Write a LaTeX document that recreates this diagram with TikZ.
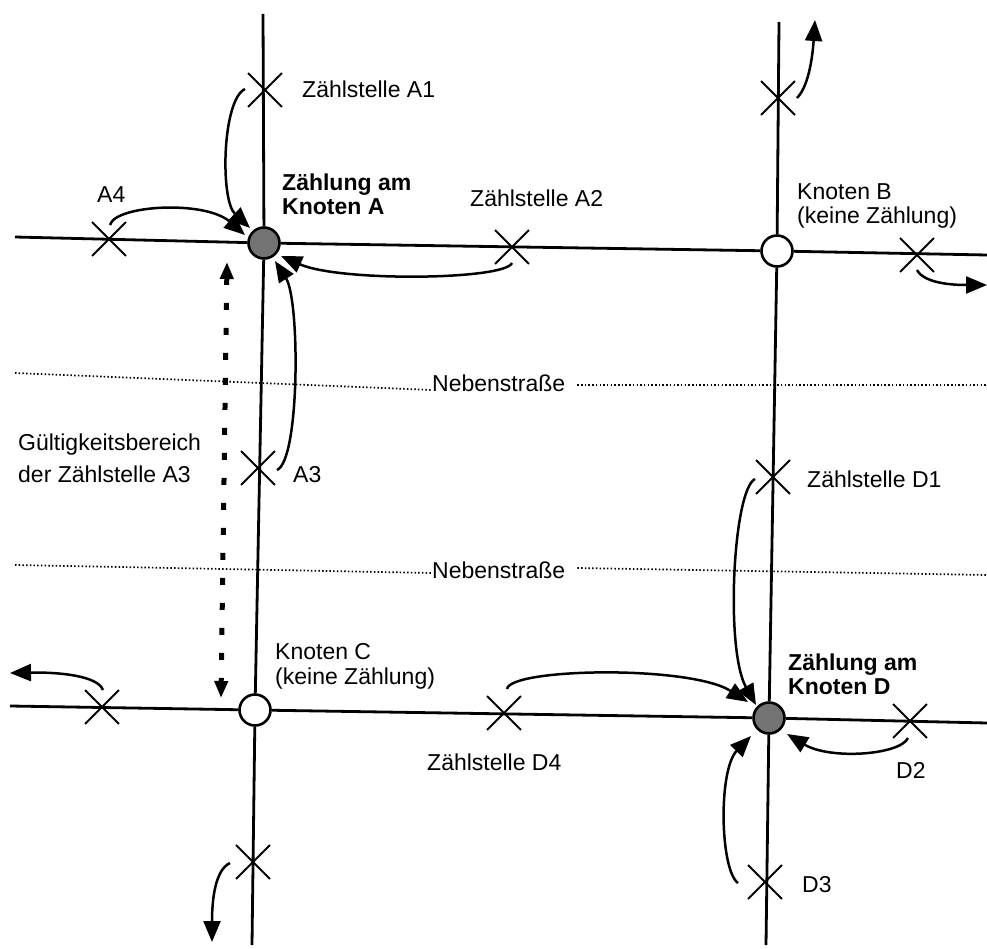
\documentclass[tikz,border=0pt]{standalone}
\usepackage{fontspec}
\setmainfont{Liberation Sans}
\usetikzlibrary{arrows.meta,shapes.misc}
\begin{document}
\begin{tikzpicture}[x=1pt,y=-1pt,
  road/.style={line width=2.8pt},
  side/.style={line width=1.7pt, dash pattern=on 1.5pt off 2.2pt},
  junc/.style={circle, draw, line width=2.6pt, minimum size=31pt, inner sep=0pt},
  counted/.style={junc, fill=black!55},
  free/.style={junc, fill=white},
  xmark/.style={cross out, draw, line width=1.8pt, minimum size=32pt, inner sep=0pt},
  flow/.style={line width=2.5pt, -{Triangle[length=21pt,width=17pt]}},
  validity/.style={line width=5pt, dash pattern=on 7pt off 18pt,
    {Triangle[length=17pt,width=13pt]}-{Triangle[length=17pt,width=13pt]}},
  lbl/.style={font=\fontsize{23}{24}\selectfont, anchor=base west, inner sep=0pt},
  blbl/.style={lbl, font=\fontsize{23}{24}\selectfont\bfseries},
  neb/.style={font=\fontsize{23}{24}\selectfont, anchor=west, inner sep=0pt},
]
\useasboundingbox (0,0) rectangle (987,949);

% junctions
\node[counted] (A) at (264,243) {};
\node[free]    (B) at (777,251) {};
\node[free]    (C) at (255,710) {};
\node[counted] (D) at (769,718) {};

% road ends
\coordinate (tl) at (15,237);
\coordinate (tr) at (987,255);
\coordinate (bl) at (10,706);
\coordinate (br) at (987,723);
\coordinate (lt) at (263,14);
\coordinate (lb) at (252,945);
\coordinate (rt) at (779,22);
\coordinate (rb) at (766,945);

\draw[road] (tl) -- (A) -- (B) -- (tr);
\draw[road] (bl) -- (C) -- (D) -- (br);
\draw[road] (lt) -- (A) -- (C) -- (lb);
\draw[road] (rt) -- (B) -- (D) -- (rb);

% side streets
\node[neb] (neb1) at (432,383) {Nebenstraße};
\node[neb] (neb2) at (432,570) {Nebenstraße};
\coordinate (n1l) at (15,373);
\coordinate (n1r) at (987,385);
\coordinate (n2l) at (15,565);
\coordinate (n2r) at (987,575);
\draw[side] (n1l) -- ([yshift=-7pt]neb1.west);
\draw[side] ([xshift=12pt,yshift=-2pt]neb1.east) -- (n1r);
\draw[side] (n2l) -- ([yshift=-3pt]neb2.west);
\draw[side] ([xshift=12pt,yshift=2pt]neb2.east) -- (n2r);

% counting points
\node[xmark] (A1) at (265,90) {};
\node[xmark] (A4) at (109,239) {};
\node[xmark] (A2) at (512,247) {};
\node[xmark] (A3) at (258,468) {};
\node[xmark] (B1) at (778,98) {};
\node[xmark] (B2) at (917,255) {};
\node[xmark] (C1) at (102,707) {};
\node[xmark] (C2) at (253,862) {};
\node[xmark] (D1) at (773,477) {};
\node[xmark] (D4) at (504,713) {};
\node[xmark] (D2) at (910,721) {};
\node[xmark] (D3) at (765,882) {};

% arrow ends
\coordinate (a1s) at (245,89);   \coordinate (a1e) at (250,228);
\coordinate (a4s) at (110,225);  \coordinate (a4e) at (245,235);
\coordinate (a2s) at (512,263);  \coordinate (a2e) at (281,256);
\coordinate (a3s) at (277,470);  \coordinate (a3e) at (275,261);
\coordinate (b1s) at (797,98);   \coordinate (b1e) at (815,20);
\coordinate (b2s) at (917,270);  \coordinate (b2e) at (987,285);
\coordinate (c1s) at (103,690);  \coordinate (c1e) at (10,673);
\coordinate (c2s) at (230,863);  \coordinate (c2e) at (212,942);
\coordinate (d1s) at (755,479);  \coordinate (d1e) at (756,705);
\coordinate (d4s) at (507,689);  \coordinate (d4e) at (748,702);
\coordinate (d2s) at (908,738);  \coordinate (d2e) at (787,734);
\coordinate (d3s) at (738,883);  \coordinate (d3e) at (751,736);
\coordinate (rgt) at (227,262);  \coordinate (rgb) at (221,698);

\draw[flow] (a1s) .. controls (222,100) and (220,200) .. (a1e);
\draw[flow] (a4s) .. controls (115,205) and (205,200) .. (a4e);
\draw[flow] (a2s) .. controls (505,280) and (340,282) .. (a2e);
\draw[flow] (a3s) .. controls (300,460) and (300,300) .. (a3e);
\draw[flow] (b1s) .. controls (810,85) and (813,50) .. (b1e);
\draw[flow] (b2s) .. controls (925,285) and (960,285) .. (b2e);
\draw[flow] (c1s) .. controls (98,676) and (60,672) .. (c1e);
\draw[flow] (c2s) .. controls (215,870) and (212,900) .. (c2e);
\draw[flow] (d1s) .. controls (733,490) and (725,650) .. (d1e);
\draw[flow] (d4s) .. controls (510,668) and (690,665) .. (d4e);
\draw[flow] (d2s) .. controls (900,755) and (830,760) .. (d2e);
\draw[flow] (d3s) .. controls (720,870) and (718,770) .. (d3e);
\draw[validity] (rgt) -- (rgb);

% labels
\node[lbl] (lA1) at (302,98) {Zählstelle A1};
\node[blbl] (lA1a) at (282,191) {Zählung am};
\node[blbl] (lA1b) at (282,215) {Knoten A};
\node[lbl] (lA2) at (470,207) {Zählstelle A2};
\node[lbl] (lA4) at (97,203) {A4};
\node[lbl] (lBa) at (797,200) {Knoten B};
\node[lbl] (lBb) at (797,224) {(keine Zählung)};
\node[lbl] (lG1) at (18,450) {Gültigkeitsbereich};
\node[lbl] (lG2) at (18,482) {der Zählstelle A3};
\node[lbl] (lA3) at (293,482) {A3};
\node[lbl] (lD1) at (807,487) {Zählstelle D1};
\node[lbl] (lCa) at (275,659) {Knoten C};
\node[lbl] (lCb) at (275,684) {(keine Zählung)};
\node[blbl] (lDa) at (788,670) {Zählung am};
\node[blbl] (lDb) at (788,694) {Knoten D};
\node[lbl] (lD4) at (427,770) {Zählstelle D4};
\node[lbl] (lD2) at (896,778) {D2};
\node[lbl] (lD3) at (802,892) {D3};
\end{tikzpicture}
\end{document}
